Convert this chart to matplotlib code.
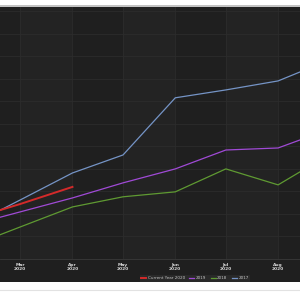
import datetime as dt

import matplotlib
matplotlib.use("Agg")
import matplotlib.dates as mdates
import matplotlib.pyplot as plt
from matplotlib.patches import Rectangle

# monthly points (1st of each month)
months = [dt.date(2020, m, 1) for m in range(2, 10)]
vals_2017 = [15.1, 26.2, 38.2, 46.2, 71.6, 75.1, 79.1, 88.6]
vals_2018 = [5.8, 14.2, 23.1, 27.6, 29.8, 40.0, 32.9, 46.7]
vals_2019 = [15.1, 20.9, 27.1, 33.8, 40.0, 48.4, 49.3, 57.8]
months_2020 = months[:3]
vals_2020 = [17.8, 24.4, 32.0]

tick_months = [dt.date(2020, m, 1) for m in range(3, 9)]
tick_labels = [d.strftime("%b") + "\n2020" for d in tick_months]

bg = "#1f1f1f"
band = "#232323"

fig = plt.figure(figsize=(3, 3), dpi=100, facecolor="white")
# dark panel behind the chart
fig.patches.append(Rectangle((0, 0.06), 1, 0.917, transform=fig.transFigure,
                             facecolor=bg, edgecolor="none", zorder=-5))
fig.add_artist(plt.Line2D([0, 1], [0.979, 0.979], color="#b8b8b8", lw=1.2))
fig.add_artist(plt.Line2D([0, 1], [0.033, 0.033], color="#e2e2e2", lw=0.8))

ax = fig.add_axes([0, 0.137, 1, 0.84])
ax.set_zorder(1)
ax.set_facecolor(bg)

# alternating month bands
for i in range(0, len(tick_months) - 1, 2):
    ax.axvspan(tick_months[i], tick_months[i + 1], color=band, lw=0, zorder=0)

ax.plot(months, vals_2017, color="#7594c6", lw=0.9, label="2017")
ax.plot(months, vals_2018, color="#5f9a32", lw=0.9, label="2018")
ax.plot(months, vals_2019, color="#a04ad6", lw=0.9, label="2019")
ax.plot(months_2020, vals_2020, color="#d42a2a", lw=1.4, label="Current Year 2020")

ax.set_xlim(mdates.date2num(dt.date(2020, 2, 18)), mdates.date2num(dt.date(2020, 8, 14)))
ax.set_ylim(0, 112)
ax.set_yticks(range(10, 111, 10))
ax.set_xticks(tick_months)
ax.set_xticklabels(tick_labels, fontsize=3.2, color="#d4d4d4", linespacing=1.1,
                   fontweight="bold")
ax.tick_params(axis="x", length=0, pad=3)
ax.tick_params(axis="y", length=0, labelleft=False)
ax.grid(True, color="#2c2c2c", lw=0.6)
ax.set_axisbelow(True)
for s in ["top", "left", "right"]:
    ax.spines[s].set_visible(False)
ax.spines["bottom"].set_color("#3a3a3a")
ax.spines["bottom"].set_linewidth(0.6)

h, l = ax.get_legend_handles_labels()
order = [3, 2, 1, 0]
leg = fig.legend([h[i] for i in order], [l[i] for i in order], ncol=4,
                 loc="center", bbox_to_anchor=(0.65, 0.072), fontsize=3.0,
                 frameon=True, facecolor="#2c2c2c", edgecolor="none",
                 handlelength=1.2, columnspacing=1.0, borderpad=0.4,
                 handletextpad=0.4)
leg.set_zorder(2)
leg.get_frame().set_boxstyle("square", pad=0)
for t in leg.get_texts():
    t.set_color("#c4c4c4")

fig.savefig("out.png", dpi=100, facecolor=fig.get_facecolor())
